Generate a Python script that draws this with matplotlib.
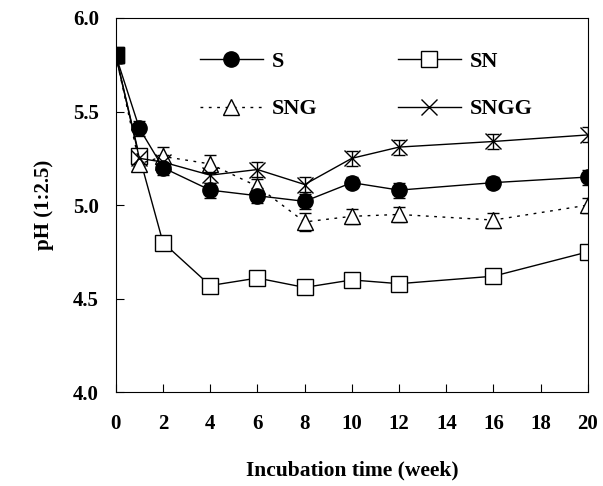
import numpy as np
import matplotlib.pyplot as plt

plt.rcParams['font.family'] = 'Liberation Serif'
plt.rcParams['font.weight'] = 'bold'

weeks = [0, 1, 2, 4, 6, 8, 10, 12, 16, 20]

ph_s = [5.80, 5.41, 5.20, 5.08, 5.05, 5.02, 5.12, 5.08, 5.12, 5.15]
ph_sn = [5.80, 5.26, 4.80, 4.57, 4.61, 4.56, 4.60, 4.58, 4.62, 4.75]
ph_sng = [5.80, 5.22, 5.26, 5.22, 5.10, 4.91, 4.94, 4.95, 4.92, 5.00]
ph_sngg = [5.80, 5.25, 5.23, 5.16, 5.19, 5.11, 5.25, 5.31, 5.34, 5.375]

err_s = [0.04, 0.04, 0.04, 0.04, 0.04, 0.04, 0.03, 0.04, 0.03, 0.04]
err_sn = [0.04, 0.03, 0.03, 0.03, 0.03, 0.03, 0.03, 0.03, 0.03, 0.03]
err_sng = [0.04, 0.03, 0.05, 0.05, 0.04, 0.05, 0.04, 0.04, 0.04, 0.04]
err_sngg = [0.04, 0.04, 0.04, 0.04, 0.04, 0.04, 0.04, 0.04, 0.04, 0.04]

fig = plt.figure(figsize=(6.03, 4.86), dpi=100)
ax = fig.add_axes([0.192, 0.193, 0.783, 0.77])

common = dict(color='black', ecolor='black', elinewidth=1, capsize=4, capthick=1,
              markersize=11, linewidth=1)
ax.errorbar(weeks, ph_sn, yerr=err_sn, marker='s', mfc='white', mec='black',
            linestyle='-', label='SN', **common)
ax.errorbar(weeks, ph_sng, yerr=err_sng, marker='^', mfc='white', mec='black',
            linestyle=(0, (2, 4)), label='SNG', **common)
ax.errorbar(weeks, ph_sngg, yerr=err_sngg, marker='x', mec='black',
            linestyle='-', label='SNGG', markeredgewidth=1, **common)
ax.errorbar(weeks, ph_s, yerr=err_s, marker='o', mfc='black', mec='black',
            linestyle='-', label='S', **common)
# overlapping markers at the start look like one solid square
ax.plot(weeks[0], ph_sn[0], marker='s', markersize=11, color='black', zorder=5)

ax.set_xlim(0, 20)
ax.set_ylim(4.0, 6.0)
ax.set_xticks(range(0, 21, 2))
ax.set_yticks(np.arange(4.0, 6.01, 0.5))
ax.set_yticklabels([f'{v:.1f}' for v in np.arange(4.0, 6.01, 0.5)])
ax.tick_params(direction='in', length=6, labelsize=15)
ax.tick_params(axis='x', pad=16)
ax.tick_params(axis='y', pad=12)
for lab in ax.get_xticklabels() + ax.get_yticklabels():
    lab.set_fontweight('bold')

ax.set_xlabel('Incubation time (week)', fontsize=15.5, fontweight='bold', labelpad=19)
ax.set_ylabel('pH (1:2.5)', fontsize=15, fontweight='bold', labelpad=14)

handles, labels = ax.get_legend_handles_labels()
order = [labels.index(n) for n in ['S', 'SNG', 'SN', 'SNGG']]
ax.legend([handles[i][0] for i in order], [labels[i] for i in order], ncol=2,
          frameon=False, loc='upper left', bbox_to_anchor=(0.178, 0.91),
          borderaxespad=0, borderpad=0, handlelength=2.85, handletextpad=0.4,
          columnspacing=3.6, labelspacing=1.2,
          prop={'size': 16, 'weight': 'bold'})

fig.savefig('out.png', dpi=100)
